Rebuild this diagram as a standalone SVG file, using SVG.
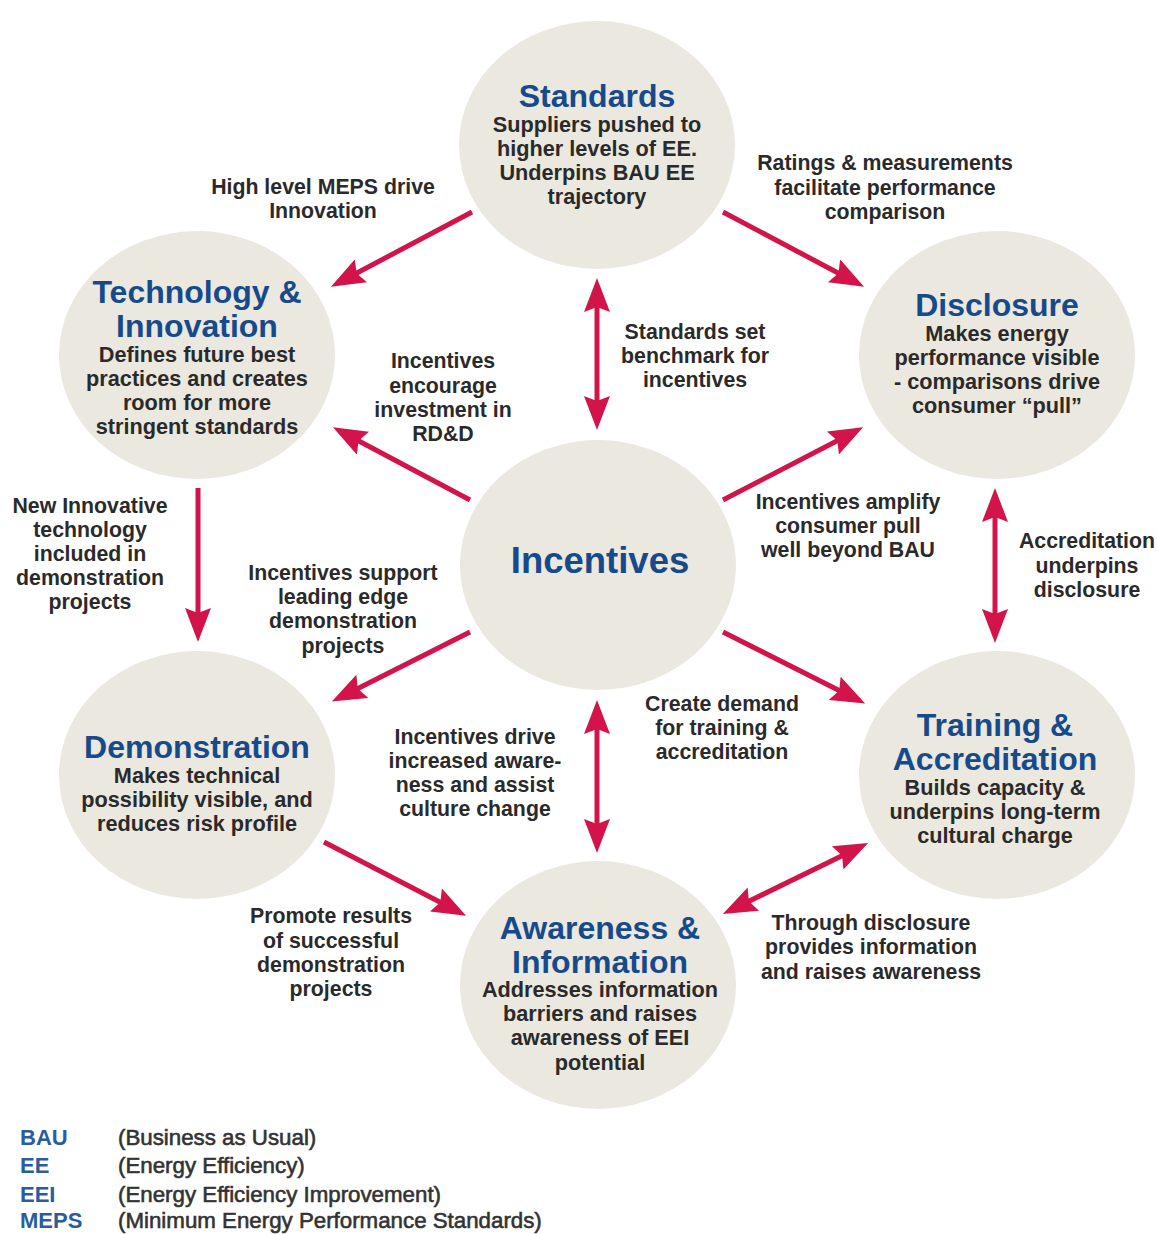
<svg xmlns="http://www.w3.org/2000/svg" width="1158" height="1234" viewBox="0 0 1158 1234">
  <style>
    .node ellipse { fill: #eae8df; }
    .title { font-family: "Liberation Sans", Arial, sans-serif; font-weight: bold; font-size: 32px; fill: #174a8b; text-anchor: middle; }
    .hub { font-size: 36.5px; }
    .body { font-family: "Liberation Sans", Arial, sans-serif; font-weight: bold; font-size: 21.7px; fill: #2a2a2a; text-anchor: middle; }
    .label { font-family: "Liberation Sans", Arial, sans-serif; font-weight: bold; font-size: 21.3px; fill: #2a2a2a; text-anchor: middle; }
    .conn line { stroke: #d3144a; stroke-width: 5; fill: none; }
    .one { marker-end: url(#head); }
    .two { marker-start: url(#head); marker-end: url(#head); }
    .abbr { font-family: "Liberation Sans", Arial, sans-serif; font-weight: bold; font-size: 22px; fill: #2a5c9e; }
    .desc { font-family: "Liberation Sans", Arial, sans-serif; font-size: 22.3px; fill: #333333; stroke: #333333; stroke-width: 0.6; }
  </style>
  <defs>
    <marker id="head" viewBox="0 0 34 26" refX="26" refY="13" markerWidth="34" markerHeight="26" markerUnits="userSpaceOnUse" orient="auto-start-reverse">
      <path d="M0,0 L34,13 L0,26 L5,13 Z" fill="#d3144a"/>
    </marker>
  </defs>

  <rect width="1158" height="1234" fill="#ffffff"/>

  <!-- nodes -->
  <g id="standards" class="node">
    <ellipse cx="597" cy="145" rx="138" ry="124"/>
    <text class="title" x="597" y="107">Standards</text>
    <text class="body" x="597" y="131.5">Suppliers pushed to</text>
    <text class="body" x="597" y="155.5">higher levels of EE.</text>
    <text class="body" x="597" y="179.5">Underpins BAU EE</text>
    <text class="body" x="597" y="203.5">trajectory</text>
  </g>

  <g id="technology" class="node">
    <ellipse cx="197" cy="355" rx="138" ry="124"/>
    <text class="title" x="197" y="302.5">Technology &amp;</text>
    <text class="title" x="197" y="336.5">Innovation</text>
    <text class="body" x="197" y="361.5">Defines future best</text>
    <text class="body" x="197" y="385.5">practices and creates</text>
    <text class="body" x="197" y="409.5">room for more</text>
    <text class="body" x="197" y="433.5">stringent standards</text>
  </g>

  <g id="disclosure" class="node">
    <ellipse cx="997" cy="355" rx="138" ry="124"/>
    <text class="title" x="997" y="315.5">Disclosure</text>
    <text class="body" x="997" y="340.5">Makes energy</text>
    <text class="body" x="997" y="364.5">performance visible</text>
    <text class="body" x="997" y="388.5">- comparisons drive</text>
    <text class="body" x="997" y="412.5">consumer “pull”</text>
  </g>

  <g id="incentives" class="node">
    <ellipse cx="598" cy="565" rx="138" ry="125"/>
    <text class="title hub" x="600" y="573">Incentives</text>
  </g>

  <g id="demonstration" class="node">
    <ellipse cx="197" cy="775" rx="138" ry="124"/>
    <text class="title" x="197" y="757.5">Demonstration</text>
    <text class="body" x="197" y="782.5">Makes technical</text>
    <text class="body" x="197" y="806.5">possibility visible, and</text>
    <text class="body" x="197" y="830.5">reduces risk profile</text>
  </g>

  <g id="training" class="node">
    <ellipse cx="997" cy="775" rx="138" ry="124"/>
    <text class="title" x="995" y="735.5">Training &amp;</text>
    <text class="title" x="995" y="769.5">Accreditation</text>
    <text class="body" x="995" y="794.5">Builds capacity &amp;</text>
    <text class="body" x="995" y="818.5">underpins long-term</text>
    <text class="body" x="995" y="842.5">cultural charge</text>
  </g>

  <g id="awareness" class="node">
    <ellipse cx="598" cy="985" rx="138" ry="124"/>
    <text class="title" x="600" y="938.5">Awareness &amp;</text>
    <text class="title" x="600" y="972.5">Information</text>
    <text class="body" x="600" y="996.5">Addresses information</text>
    <text class="body" x="600" y="1020.5">barriers and raises</text>
    <text class="body" x="600" y="1044.5">awareness of EEI</text>
    <text class="body" x="600" y="1069.5">potential</text>
  </g>

  <!-- connectors -->
  <g id="connectors" class="conn">
    <line class="one" x1="472" y1="212" x2="338" y2="283"/>
    <line class="one" x1="723" y1="212" x2="857" y2="283"/>
    <line class="two" x1="597" y1="286" x2="597" y2="422"/>
    <line class="one" x1="470" y1="500" x2="340" y2="431"/>
    <line class="one" x1="723" y1="500" x2="856" y2="431"/>
    <line class="one" x1="198" y1="488" x2="198" y2="634"/>
    <line class="two" x1="995" y1="496" x2="995" y2="635"/>
    <line class="one" x1="470" y1="632" x2="339" y2="698"/>
    <line class="one" x1="723" y1="632" x2="858" y2="700"/>
    <line class="two" x1="597" y1="708" x2="597" y2="845"/>
    <line class="one" x1="324" y1="842" x2="459" y2="912"/>
    <line class="two" x1="730" y1="910.5" x2="861" y2="846.5"/>
  </g>

  <!-- connector labels -->
  <g id="labels">
    <text class="label" x="323" y="194">High level MEPS drive</text>
    <text class="label" x="323" y="218">Innovation</text>

    <text class="label" x="885" y="170">Ratings &amp; measurements</text>
    <text class="label" x="885" y="195">facilitate performance</text>
    <text class="label" x="885" y="219">comparison</text>

    <text class="label" x="695" y="339">Standards set</text>
    <text class="label" x="695" y="363">benchmark for</text>
    <text class="label" x="695" y="387">incentives</text>

    <text class="label" x="443" y="368">Incentives</text>
    <text class="label" x="443" y="393">encourage</text>
    <text class="label" x="443" y="417">investment in</text>
    <text class="label" x="443" y="441">RD&amp;D</text>

    <text class="label" x="90" y="513">New Innovative</text>
    <text class="label" x="90" y="537">technology</text>
    <text class="label" x="90" y="561">included in</text>
    <text class="label" x="90" y="585">demonstration</text>
    <text class="label" x="90" y="609">projects</text>

    <text class="label" x="848" y="509">Incentives amplify</text>
    <text class="label" x="848" y="533">consumer pull</text>
    <text class="label" x="848" y="557">well beyond BAU</text>

    <text class="label" x="1087" y="548">Accreditation</text>
    <text class="label" x="1087" y="573">underpins</text>
    <text class="label" x="1087" y="597">disclosure</text>

    <text class="label" x="343" y="580">Incentives support</text>
    <text class="label" x="343" y="604">leading edge</text>
    <text class="label" x="343" y="628">demonstration</text>
    <text class="label" x="343" y="653">projects</text>

    <text class="label" x="722" y="711">Create demand</text>
    <text class="label" x="722" y="735">for training &amp;</text>
    <text class="label" x="722" y="759">accreditation</text>

    <text class="label" x="475" y="744">Incentives drive</text>
    <text class="label" x="475" y="768">increased aware-</text>
    <text class="label" x="475" y="792">ness and assist</text>
    <text class="label" x="475" y="816">culture change</text>

    <text class="label" x="331" y="923">Promote results</text>
    <text class="label" x="331" y="948">of successful</text>
    <text class="label" x="331" y="972">demonstration</text>
    <text class="label" x="331" y="996">projects</text>

    <text class="label" x="871" y="930">Through disclosure</text>
    <text class="label" x="871" y="954">provides information</text>
    <text class="label" x="871" y="979">and raises awareness</text>
  </g>

  <!-- abbreviations -->
  <g id="legend">
    <text class="abbr" x="20" y="1144.5">BAU</text>
    <text class="desc" x="118" y="1144.5">(Business as Usual)</text>
    <text class="abbr" x="20" y="1173">EE</text>
    <text class="desc" x="118" y="1173">(Energy Efficiency)</text>
    <text class="abbr" x="20" y="1201.5">EEI</text>
    <text class="desc" x="118" y="1201.5">(Energy Efficiency Improvement)</text>
    <text class="abbr" x="20" y="1228">MEPS</text>
    <text class="desc" x="118" y="1228">(Minimum Energy Performance Standards)</text>
  </g>
</svg>
